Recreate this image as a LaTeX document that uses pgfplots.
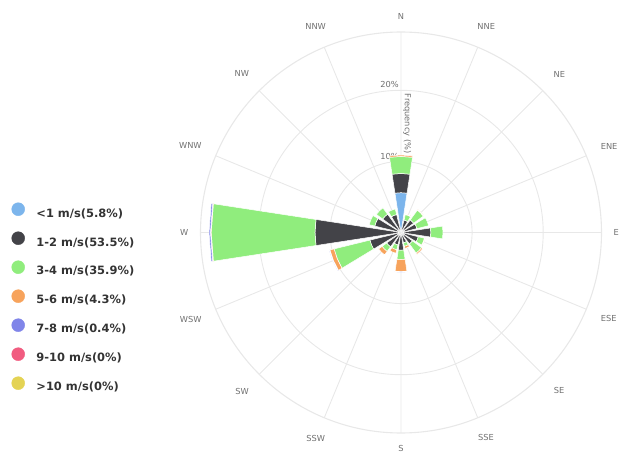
\documentclass[border=0pt]{standalone}
\usepackage{pgfplots}
\pgfplotsset{compat=1.18}
\usepackage{pgfplotstable}
\usepgfplotslibrary{polar}
\usepackage{fontspec}
\setmainfont{DejaVu Sans}

\definecolor{c1}{HTML}{7CB5EC}
\definecolor{c2}{HTML}{434348}
\definecolor{c3}{HTML}{90ED7D}
\definecolor{c4}{HTML}{F7A35C}
\definecolor{c5}{HTML}{8085E9}
\definecolor{c6}{HTML}{F15C80}
\definecolor{c7}{HTML}{E4D354}
\definecolor{gridc}{HTML}{E8E8E8}
\definecolor{labc}{HTML}{707070}
\definecolor{legc}{HTML}{333333}

% frequency (%) per direction and speed class, N first, clockwise
\pgfplotstableread{
dir  c1   c2    c3    c4   c5   c6  c7
N    5.6  2.7   2.4   0.2  0    0   0
NNE  0    1.8   0.8   0.1  0    0   0
NE   0    2.2   1.7   0.1  0    0   0
ENE  0    2.3   1.7   0    0    0   0
E    0    4.2   1.7   0    0    0   0
ESE  0    2.5   0.9   0.1  0    0   0
SE   0    2.0   1.6   0.2  0    0   0
SSE  0    1.5   0.5   0.3  0    0   0
S    0    2.5   1.3   1.7  0.1  0   0
SSW  0    1.8   0.7   0.5  0    0   0
SW   0    2.5   0.8   0.6  0    0   0
WSW  0    4.5   5.2   0.6  0.1  0   0
W    0    12.1  14.6  0.1  0.2  0   0
WNW  0    3.8   0.8   0    0    0   0
NW   0    3.2   1.1   0    0    0   0
NNW  0    2.6   0.8   0    0    0   0
}\windtab

\begin{document}
\begin{tikzpicture}
\useasboundingbox (0,0) rectangle (629bp,461bp);
\begin{polaraxis}[
  at={(401bp,228.5bp)}, anchor=center,
  scale only axis, width=401bp, height=401bp,
  ymin=0, ymax=28.2,
  xtick={0,22.5,45,67.5,90,112.5,135,157.5,180,202.5,225,247.5,270,292.5,315,337.5},
  xticklabels={E,ENE,NE,NNE,N,NNW,NW,WNW,W,WSW,SW,SSW,S,SSE,SE,ESE},
  ytick={10,20}, yticklabels={},
  grid=major, major grid style={draw=gridc, line width=0.9bp},
  x axis line style={draw=gridc, line width=1.1bp},
  y axis line style={draw=none},
  tick style={draw=none}, major tick length=0pt,
  xticklabel style={font=\fontsize{8.3}{10}\selectfont, text=labc, inner sep=12bp},
  legend cell align=left,
  legend style={
    at={(-0.4713,0.5748)}, anchor=north west,
    draw=none, fill=none, inner sep=0pt, outer sep=0pt,
    font=\fontsize{11.5}{13}\selectfont\bfseries, text=legc,
    row sep=13bp, column sep=11.5bp,
    nodes={inner sep=0pt},
  },
]
\addlegendimage{legend image code/.code={\fill[c1] (0bp,4.2bp) circle (6.5bp);}}
\addlegendentry{<1 m/s(5.8\%)}
\addlegendimage{legend image code/.code={\fill[c2] (0bp,4.2bp) circle (6.5bp);}}
\addlegendentry{1-2 m/s(53.5\%)}
\addlegendimage{legend image code/.code={\fill[c3] (0bp,4.2bp) circle (6.5bp);}}
\addlegendentry{3-4 m/s(35.9\%)}
\addlegendimage{legend image code/.code={\fill[c4] (0bp,4.2bp) circle (6.5bp);}}
\addlegendentry{5-6 m/s(4.3\%)}
\addlegendimage{legend image code/.code={\fill[c5] (0bp,4.2bp) circle (6.5bp);}}
\addlegendentry{7-8 m/s(0.4\%)}
\addlegendimage{legend image code/.code={\fill[c6] (0bp,4.2bp) circle (6.5bp);}}
\addlegendentry{9-10 m/s(0\%)}
\addlegendimage{legend image code/.code={\fill[c7] (0bp,4.2bp) circle (6.5bp);}}
\addlegendentry{>10 m/s(0\%)}

\node[anchor=south east, font=\fontsize{8.3}{10}\selectfont, text=labc, inner sep=2bp]
  at (axis cs:90,20) {20\%};
\node[anchor=south east, font=\fontsize{8.3}{10}\selectfont, text=labc, inner sep=2bp]
  at (axis cs:90,10) {10\%};
\node[rotate=-90, anchor=south, font=\fontsize{8.3}{10}\selectfont, text=labc, inner sep=2bp]
  at (axis cs:90,15.3) {Frequency (\%)};

% stacked wedges, one per direction and speed class
\pgfplotsforeachungrouped \i in {0,...,15}{%
  \pgfmathsetmacro\thc{90-22.5*\i}%
  \pgfmathsetmacro\thl{\thc-8.7}%
  \pgfmathsetmacro\thr{\thc+8.7}%
  \def\rb{0}%
  \pgfplotsforeachungrouped \j in {1,...,7}{%
    \pgfplotstablegetelem{\i}{c\j}\of\windtab
    \pgfmathsetmacro\rt{\rb+\pgfplotsretval}%
    \pgfmathtruncatemacro\pos{\pgfplotsretval>0}%
    \ifnum\pos=1
      \edef\cmd{\noexpand\addplot[forget plot, fill=c\j, draw=white, line width=0.5bp]
        coordinates {(\thl,\rb) (\thl,\rt) (\thc,\rt) (\thr,\rt) (\thr,\rb) (\thc,\rb)} --cycle;}%
      \cmd
    \fi
    \let\rb\rt
  }%
}
\end{polaraxis}
\end{tikzpicture}
\end{document}
